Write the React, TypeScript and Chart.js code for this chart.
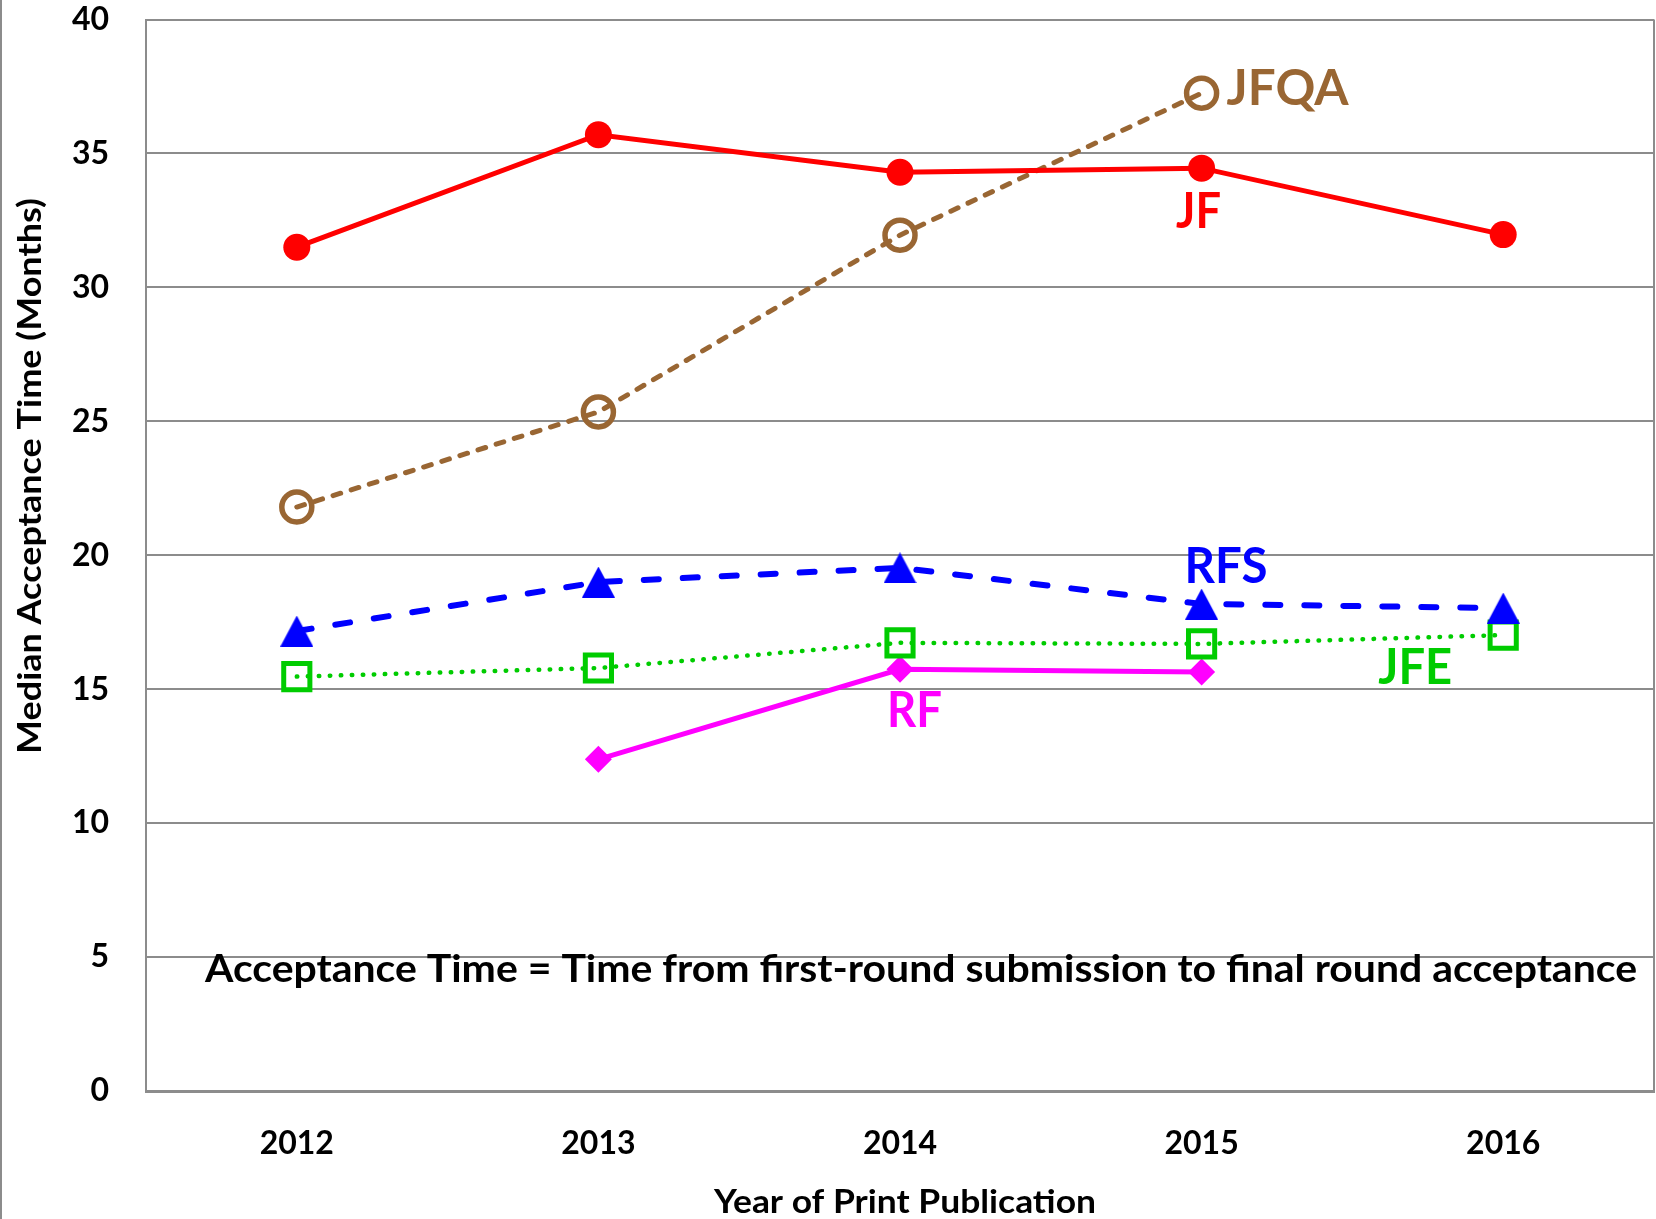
import React, { useEffect, useRef } from 'react';
import { Chart, registerables } from 'chart.js';

Chart.register(...registerables);

// ---- data ----
const years = ['2012', '2013', '2014', '2015', '2016'];
const jfValues = [31.5, 35.7, 34.3, 34.45, 31.97];
const jfqaValues = [21.8, 25.35, 31.95, 37.25, null];
const rfsValues = [17.17, 19.0, 19.53, 18.18, 18.03];
const jfeValues = [15.47, 15.79, 16.73, 16.69, 17.02];
const rfValues = [null, 12.38, 15.74, 15.64, null];
const yMin = 0;
const yMax = 40;
const yStep = 5;
const yAxisTitle = 'Median Acceptance Time (Months)';
const xAxisTitle = 'Year of Print Publication';
const noteText = 'Acceptance Time = Time from first-round submission to final round acceptance';

const FONT = 'Lato, "Open Sans", sans-serif';

function makeTriangle(color: string) {
  const c = document.createElement('canvas');
  const w = 33, h = 31;
  c.width = w; c.height = h;
  const g = c.getContext('2d')!;
  g.fillStyle = color;
  g.beginPath();
  g.moveTo(w / 2, 0);
  g.lineTo(w, h);
  g.lineTo(0, h);
  g.closePath();
  g.fill();
  return c;
}

function drawFitted(ctx: CanvasRenderingContext2D, text: string, x: number, y: number, font: string, color: string, width: number, align: CanvasTextAlign) {
  ctx.save();
  ctx.font = font;
  const m = ctx.measureText(text).width;
  const sx = width / m;
  ctx.translate(x, y);
  ctx.scale(sx, 1);
  ctx.textAlign = align;
  ctx.textBaseline = 'alphabetic';
  ctx.fillStyle = color;
  ctx.fillText(text, 0, 0);
  ctx.restore();
}

const annotationPlugin = {
  id: 'annotations',
  beforeDraw(chart: any) {
    const ctx = chart.ctx;
    ctx.save();
    ctx.fillStyle = '#ffffff';
    ctx.fillRect(0, 0, chart.width, chart.height);
    ctx.strokeStyle = '#8c8c8c';
    ctx.lineWidth = 2;
    ctx.beginPath();
    ctx.moveTo(1, 0);
    ctx.lineTo(1, chart.height);
    ctx.stroke();
    ctx.restore();
  },
  afterDatasetsDraw(chart: any) {
    const ctx = chart.ctx;
    const xs = chart.scales.x;
    const ys = chart.scales.y;
    const area = chart.chartArea;
    // right border of plot area
    ctx.save();
    ctx.strokeStyle = '#8c8c8c';
    ctx.lineWidth = 2;
    ctx.beginPath();
    ctx.moveTo(area.right, area.top);
    ctx.lineTo(area.right, area.bottom);
    ctx.stroke();
    ctx.restore();

    const labelFont = `bold 49px ${FONT}`;
    const lab = (text: string, vals: (number | null)[], idx: number, dx: number, dy: number, color: string, w: number, align: CanvasTextAlign) => {
      const px = xs.getPixelForValue(idx);
      const py = ys.getPixelForValue(vals[idx] as number);
      drawFitted(ctx, text, px + dx, py + dy, labelFont, color, w, align);
    };
    lab('JFQA', jfqaValues, 3, 25, 12, '#996633', 122, 'left');
    lab('JF', jfValues, 3, -3, 60, '#ff0000', 45, 'center');
    lab('RFS', rfsValues, 3, 24.5, -21, '#0000ff', 83, 'center');
    lab('JFE', jfeValues, 4, -88, 49, '#00cc00', 74, 'center');
    lab('RF', rfValues, 2, 14.5, 58, '#ff00ff', 55, 'center');

    // note
    drawFitted(ctx, noteText, area.left + 59, ys.getPixelForValue(5) + 25, `bold 38px ${FONT}`, '#000000', 1432, 'left');

    // x axis title
    drawFitted(ctx, xAxisTitle, (area.left + area.right) / 2 + 5, 1213, `bold 32px ${FONT}`, '#000000', 382, 'center');

    // y axis title
    ctx.save();
    ctx.translate(41, 476);
    ctx.rotate(-Math.PI / 2);
    drawFitted(ctx, yAxisTitle, 0, 0, `bold 33px ${FONT}`, '#000000', 556, 'center');
    ctx.restore();
  },
};

export default function App() {
  const ref = useRef<HTMLCanvasElement | null>(null);
  useEffect(() => {
    document.body.style.margin = '0';
    const canvas = ref.current!;
    Chart.defaults.font.family = FONT;
    const tri = makeTriangle('#0000ff');
    const chart = new Chart(canvas, {
      type: 'line',
      data: {
        labels: years,
        datasets: [
          {
            label: 'JF',
            data: jfValues,
            borderColor: '#ff0000',
            backgroundColor: '#ff0000',
            borderWidth: 5,
            pointStyle: 'circle',
            pointRadius: 13.5,
            pointBorderWidth: 0,
            pointBackgroundColor: '#ff0000',
          },
          {
            label: 'JFQA',
            data: jfqaValues,
            borderColor: '#996633',
            borderWidth: 5,
            borderDash: [8, 11],
            borderCapStyle: 'round',
            pointStyle: 'circle',
            pointRadius: 15,
            pointBorderWidth: 5.5,
            pointBorderColor: '#996633',
            pointBackgroundColor: 'rgba(0,0,0,0)',
          },
          {
            label: 'RFS',
            data: rfsValues,
            borderColor: '#0000ff',
            borderWidth: 6,
            borderDash: [15, 24],
            borderCapStyle: 'round',
            pointStyle: tri as any,
            pointRadius: 16,
          },
          {
            label: 'JFE',
            data: jfeValues,
            borderColor: '#00cc00',
            borderWidth: 4.5,
            borderDash: [0.5, 10.5],
            borderCapStyle: 'round',
            pointStyle: 'rect',
            pointRadius: 18.5,
            pointBorderWidth: 5,
            pointBorderColor: '#00cc00',
            pointBackgroundColor: 'rgba(0,0,0,0)',
          },
          {
            label: 'RF',
            data: rfValues,
            borderColor: '#ff00ff',
            borderWidth: 5,
            pointStyle: 'rectRot',
            pointRadius: 13.5,
            pointBorderWidth: 0,
            pointBackgroundColor: '#ff00ff',
          },
        ],
      },
      options: {
        responsive: false,
        animation: false,
        events: [],
        layout: { autoPadding: false, padding: { top: 19.5, right: 2, left: 0, bottom: 0 } },
        plugins: {
          legend: { display: false },
          title: { display: false },
          tooltip: { enabled: false },
        },
        scales: {
          x: {
            offset: true,
            grid: { display: false, drawTicks: false },
            border: { display: true, color: '#8c8c8c', width: 3 },
            ticks: {
              color: '#000000',
              font: { family: FONT, size: 32, weight: 'bold' },
              padding: 33,
              maxRotation: 0,
            },
            afterFit: (s: any) => {
              s.height = 128;
              s.paddingLeft = 0;
              s.paddingRight = 0;
            },
          },
          y: {
            min: yMin,
            max: yMax,
            grid: { color: '#8c8c8c', lineWidth: 2, drawTicks: false },
            border: { display: true, color: '#8c8c8c', width: 2 },
            ticks: {
              stepSize: yStep,
              color: '#000000',
              font: { family: FONT, size: 32, weight: 'bold' },
              padding: 37,
            },
            afterFit: (s: any) => {
              s.width = 146;
              s.paddingTop = 0;
              s.paddingBottom = 0;
            },
          },
        },
      },
      plugins: [annotationPlugin],
    });
    return () => chart.destroy();
  }, []);
  return <canvas ref={ref} width={1656} height={1219} style={{ display: 'block' }} />;
}
